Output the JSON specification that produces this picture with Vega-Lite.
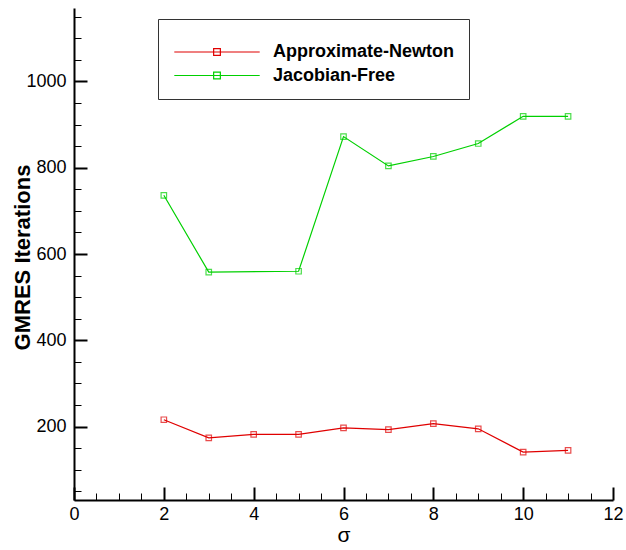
{
  "$schema": "https://vega.github.io/schema/vega-lite/v6.json",
  "width": 539,
  "height": 492,
  "autosize": {"type": "none"},
  "padding": {"left": 74, "top": 8, "right": 13, "bottom": 50},
  "config": {
    "view": {"stroke": null},
    "font": "Liberation Sans",
    "axis": {"grid": false, "domainColor": "black", "tickColor": "black", "labelColor": "black", "titleColor": "black"}
  },
  "data": {
    "values": [
      {"sigma": 2, "iterations": 216, "method": "Approximate-Newton"},
      {"sigma": 3, "iterations": 174, "method": "Approximate-Newton"},
      {"sigma": 4, "iterations": 182, "method": "Approximate-Newton"},
      {"sigma": 5, "iterations": 182, "method": "Approximate-Newton"},
      {"sigma": 6, "iterations": 197, "method": "Approximate-Newton"},
      {"sigma": 7, "iterations": 193, "method": "Approximate-Newton"},
      {"sigma": 8, "iterations": 207, "method": "Approximate-Newton"},
      {"sigma": 9, "iterations": 195, "method": "Approximate-Newton"},
      {"sigma": 10, "iterations": 141, "method": "Approximate-Newton"},
      {"sigma": 11, "iterations": 145, "method": "Approximate-Newton"},
      {"sigma": 2, "iterations": 736, "method": "Jacobian-Free"},
      {"sigma": 3, "iterations": 558, "method": "Jacobian-Free"},
      {"sigma": 5, "iterations": 560, "method": "Jacobian-Free"},
      {"sigma": 6, "iterations": 872, "method": "Jacobian-Free"},
      {"sigma": 7, "iterations": 804, "method": "Jacobian-Free"},
      {"sigma": 8, "iterations": 826, "method": "Jacobian-Free"},
      {"sigma": 9, "iterations": 856, "method": "Jacobian-Free"},
      {"sigma": 10, "iterations": 919, "method": "Jacobian-Free"},
      {"sigma": 11, "iterations": 919, "method": "Jacobian-Free"}
    ]
  },
  "layer": [
    {
      "mark": {"type": "line", "strokeWidth": 1.2},
      "encoding": {
        "x": {
          "field": "sigma", "type": "quantitative",
          "scale": {"domain": [0, 12], "nice": false, "zero": false},
          "axis": {
            "orient": "bottom", "values": [0, 2, 4, 6, 8, 10, 12],
            "domainWidth": 2, "tickWidth": 2, "tickSize": -13,
            "labelPadding": 18, "labelFontSize": 18, "labelFlush": false,
            "title": "σ", "titleFontSize": 21, "titleFontWeight": "normal", "titlePadding": 1
          }
        },
        "y": {
          "field": "iterations", "type": "quantitative",
          "scale": {"domain": [30, 1170], "nice": false, "zero": false},
          "axis": {
            "orient": "left", "values": [200, 400, 600, 800, 1000], "format": "d",
            "domainWidth": 2, "tickWidth": 2, "tickSize": -13,
            "labelPadding": 21, "labelFontSize": 18,
            "title": "GMRES Iterations", "titleFontSize": 22, "titleFontWeight": "bold",
            "titleX": -45, "titleY": 249, "titleBaseline": "alphabetic", "titleAngle": -90
          }
        },
        "color": {
          "field": "method", "type": "nominal",
          "scale": {"domain": ["Approximate-Newton", "Jacobian-Free"], "range": ["#e00000", "#00d000"]},
          "legend": {
            "orient": "none", "legendX": 84, "legendY": 11,
            "title": " ", "titleFontSize": 6, "titlePadding": 4,
            "padding": 14, "fillColor": "white", "strokeColor": "#333333",
            "symbolType": "M-6.1,0H6.1M-0.48,-0.48H0.48V0.48H-0.48Z",
            "symbolSize": 196, "symbolStrokeWidth": 1.2, "symbolFillColor": "transparent",
            "symbolOffset": 36,
            "labelOffset": 47, "labelFontSize": 18, "labelFontWeight": "bold", "labelColor": "black",
            "rowPadding": 5.5, "labelLimit": 400
          }
        }
      }
    },
    {
      "mark": {"type": "point", "shape": "square", "filled": false, "size": 30, "strokeWidth": 1.2},
      "encoding": {
        "x": {
          "field": "sigma", "type": "quantitative",
          "scale": {"domain": [0, 12], "nice": false, "zero": false},
          "axis": {
            "orient": "bottom",
            "values": [0.5, 1, 1.5, 2.5, 3, 3.5, 4.5, 5, 5.5, 6.5, 7, 7.5, 8.5, 9, 9.5, 10.5, 11, 11.5],
            "domain": false, "labels": false, "tickWidth": 1, "tickSize": -7, "title": null
          }
        },
        "y": {
          "field": "iterations", "type": "quantitative",
          "scale": {"domain": [30, 1170], "nice": false, "zero": false},
          "axis": {
            "orient": "left",
            "values": [50, 100, 150, 250, 300, 350, 450, 500, 550, 650, 700, 750, 850, 900, 950, 1050, 1100, 1150],
            "domain": false, "labels": false, "tickWidth": 1, "tickSize": -7, "title": null
          }
        },
        "color": {"field": "method", "type": "nominal", "legend": null}
      }
    }
  ],
  "resolve": {"axis": {"x": "independent", "y": "independent"}}
}
